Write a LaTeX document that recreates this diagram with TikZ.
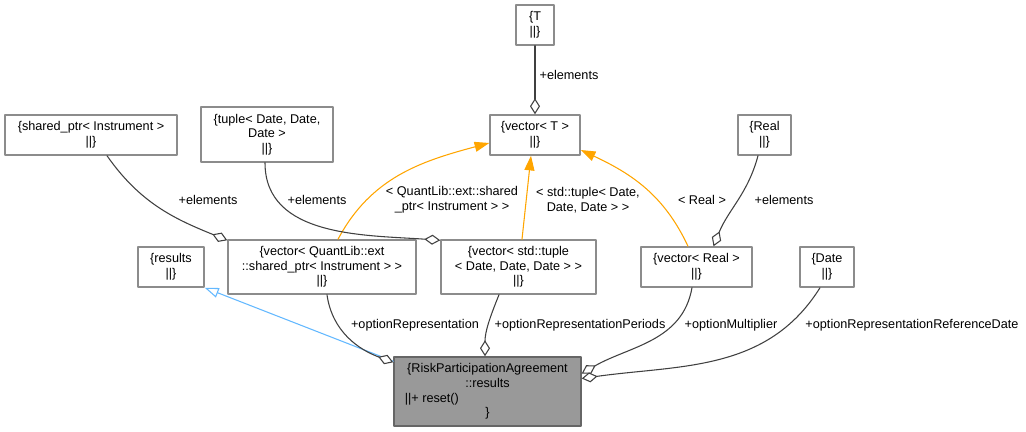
\documentclass[tikz,border=0pt]{standalone}
\usepackage{fontspec}
\setmainfont{Liberation Sans}
\usetikzlibrary{arrows.meta}
\definecolor{doxTmpl}{RGB}{255,165,0}
\definecolor{doxBase}{RGB}{99,184,255}
\begin{document}
\begin{tikzpicture}[x=0.75pt, y=-0.75pt, line cap=round, line join=round,
  font=\fontsize{9.5}{11}\selectfont]
% Collaboration graph exported in pixel units
\def\px{0.75pt}
\providecommand{\doxEdgeColor}{black!75}
\providecommand{\doxBoxColor}{black!45}
\providecommand{\doxMainFill}{black!40}
\providecommand{\doxMainBorder}{black!60}
\tikzset{
  classbox/.style={draw=\doxBoxColor, line width=1.1pt, fill=white, align=center, inner sep=1pt},
  mainbox/.style={classbox, draw=\doxMainBorder, fill=\doxMainFill},
  agg/.style={draw=\doxEdgeColor, line width=0.8pt,
    -{Diamond[open, fill=white, length=12pt, width=7.5pt]}},
  tmpl/.style={draw=doxTmpl, line width=0.8pt,
    -{Triangle[length=11pt, width=7.5pt, fill=doxTmpl]}},
  base/.style={draw=doxBase, line width=0.8pt,
    -{Triangle[open, fill=white, length=10.5pt, width=7.5pt]}},
  edgelabel/.style={inner sep=0pt, align=center}
}
\useasboundingbox (0,0) rectangle (1026,432);
% Boxes
\node[classbox, minimum width=38*\px, minimum height=40*\px] (elemT) at (535,25) {\{T\\||\}};
\node[classbox, minimum width=90*\px, minimum height=40*\px] (vecT) at (535,135) {\{vector< T >\\||\}};
\node[classbox, minimum width=172*\px, minimum height=40*\px] (sharedPtr) at (91,135) {\{shared\_ptr< Instrument >\\||\}};
\node[classbox, minimum width=132*\px, minimum height=55*\px] (tupleDate) at (267,134.5) {\{tuple< Date, Date,\\Date >\\||\}};
\node[classbox, minimum width=66*\px, minimum height=40*\px] (results) at (171,267) {\{results\\||\}};
\node[classbox, minimum width=188*\px, minimum height=54*\px] (vecShared) at (322,267) {\{vector< QuantLib::ext\\::shared\_ptr< Instrument > >\\||\}};
\node[classbox, minimum width=155*\px, minimum height=54*\px] (vecTuple) at (518.5,267) {\{vector< std::tuple\\< Date, Date, Date > >\\||\}};
\node[classbox, minimum width=111*\px, minimum height=40*\px] (vecReal) at (696.5,267) {\{vector< Real >\\||\}};
\node[classbox, minimum width=53*\px, minimum height=40*\px] (real) at (764.5,135) {\{Real\\||\}};
\node[classbox, minimum width=54*\px, minimum height=40*\px] (date) at (827,267) {\{Date\\||\}};
\node[mainbox, minimum width=187*\px, minimum height=69*\px] (rpaResults) at (487.5,391.5)
  {\{RiskParticipationAgreement\\::results\\\makebox[124pt][l]{||+ reset()}\\\}};
% Template instantiation edges
\draw[tmpl] ([xshift=16*\px]vecShared.north) to[out=62, in=195] ([yshift=-8*\px]vecT.west);
\draw[tmpl] ([xshift=3.5*\px]vecTuple.north) -- ([xshift=-4*\px]vecT.south);
\draw[tmpl] ([xshift=-8.5*\px]vecReal.north) to[out=115, in=-25] ([yshift=-15*\px]vecT.east);
% Inheritance
\draw[base] ([yshift=-5*\px]rpaResults.north west) -- (results.south east);
% Aggregation edges
\draw[agg] (elemT.south) -- (vecT.north);
\draw[agg] ([xshift=16*\px]sharedPtr.south) to[out=-55, in=158] ([yshift=-1*\px]vecShared.north west);
\draw[agg] ([xshift=-2*\px]tupleDate.south) to[out=-90, in=176] ([yshift=-1*\px]vecTuple.north west);
\draw[agg] ([xshift=-6.5*\px]real.south) to[out=-105, in=68] ([xshift=17*\px]vecReal.north);
\draw[agg] ([xshift=5*\px]vecShared.south) to[out=-82, in=160] ([yshift=-6*\px]rpaResults.north west);
\draw[agg] ([xshift=-19.5*\px]vecTuple.south) to[out=-112, in=90] ([xshift=-2.5*\px]rpaResults.north);
\draw[agg] ([xshift=-4.5*\px]vecReal.south) to[out=-100, in=30] ([yshift=18*\px]rpaResults.east);
\draw[agg] ([xshift=-7*\px]date.south) to[out=-122, in=8] ([yshift=13*\px]rpaResults.east);
% Edge labels
\node[edgelabel] (lblT) at (569,75) {+elements};
\node[edgelabel] (lblShared) at (208,200) {+elements};
\node[edgelabel] (lblTuple) at (317,200) {+elements};
\node[edgelabel] (lblReal) at (784,200) {+elements};
\node[edgelabel] (lblTmplShared) at (452,200) {< QuantLib::ext::shared\\\_ptr< Instrument > >};
\node[edgelabel] (lblTmplTuple) at (588,200) {< std::tuple< Date,\\Date, Date > >};
\node[edgelabel] (lblTmplReal) at (702,200) {< Real >};
\node[edgelabel] (lblRep) at (415,325) {+optionRepresentation};
\node[edgelabel] (lblPeriods) at (580,325) {+optionRepresentationPeriods};
\node[edgelabel] (lblMult) at (731,325) {+optionMultiplier};
\node[edgelabel] (lblRefDate) at (912,325) {+optionRepresentationReferenceDate};
\end{tikzpicture}
\end{document}
